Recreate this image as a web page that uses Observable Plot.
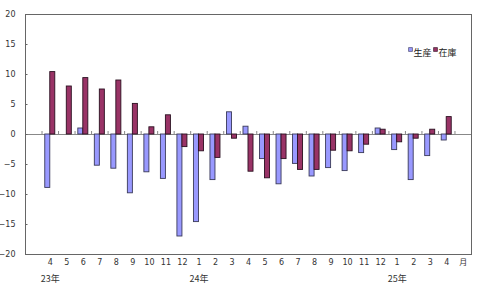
<!DOCTYPE html>
<html>
<head>
<meta charset="utf-8">
<script src="https://cdn.jsdelivr.net/npm/d3@7"></script>
<script src="https://cdn.jsdelivr.net/npm/@observablehq/plot@0.6"></script>
<style>
  html, body { margin: 0; padding: 0; background: #ffffff; }
  #chart { width: 481px; height: 303px; }
</style>
</head>
<body>
<div id="chart"></div>
<script>
// Category labels (index 0 is an empty slot, last is the unit label)
const monthLabels = ["", "4","5","6","7","8","9","10","11","12","1","2","3","4","5","6","7","8","9","10","11","12","1","2","3","4","月"];
// Year labels and the category index they sit under
const yearLabels = ["23年", "24年", "25年"];
const yearPositions = [1, 10, 22];
// Series (前年同月比, %), 23年4月 … 25年4月
const seriesNames = ["生産", "在庫"];
const production = [-8.9, 0, 1.0, -5.2, -5.7, -9.8, -6.3, -7.4, -17.0, -14.6, -7.6, 3.7, 1.3, -4.1, -8.3, -4.9, -7.0, -5.6, -6.1, -3.1, 1.0, -2.6, -7.6, -3.6, -1.0];
const inventory  = [10.4, 8.0, 9.4, 7.5, 9.0, 5.1, 1.2, 3.2, -2.1, -2.8, -3.9, -0.7, -6.2, -7.3, -4.1, -5.9, -5.9, -2.7, -2.8, -1.7, 0.8, -1.3, -0.7, 0.8, 2.9];
const yTicks = [-20, -15, -10, -5, 0, 5, 10, 15, 20];

const colors = ["#9999ff", "#993366"];
const W = 481, H = 303;
const mL = 25, mR = 10, mT = 14, mB = 49;
const xDomain = d3.range(monthLabels.length);
const bw = (W - mL - mR) / xDomain.length;

const prodRows = production.map((v, i) => ({x: i + 1, v}));
const invRows = inventory.map((v, i) => ({x: i + 1, v}));

const chart = Plot.plot({
  width: W, height: H,
  marginLeft: mL, marginRight: mR, marginTop: mT, marginBottom: mB,
  x: {type: "band", domain: xDomain, padding: 0, round: false, axis: null, label: null},
  y: {domain: [-20, 20], axis: null, label: null},
  style: {fontFamily: "DejaVu Sans, sans-serif", fontSize: "8px", color: "#333", background: "#ffffff"},
  marks: [
    Plot.ruleY([0], {stroke: "#888"}),
    Plot.ruleX(xDomain.slice(1), {x: d => d, y1: 0, y2: 0.5, dx: -bw / 2, stroke: "#888"}),
    Plot.barY(prodRows, {x: "x", y: "v", fill: colors[0], stroke: "#3a3a5a", strokeWidth: 0.9, insetLeft: 3.25, insetRight: 8.25}),
    Plot.barY(invRows, {x: "x", y: "v", fill: colors[1], stroke: "#2a1020", strokeWidth: 0.9, insetLeft: 8.25, insetRight: 3.25}),
    Plot.frame({stroke: "#666"}),
    Plot.tickY(yTicks, {y: d => d, x: () => 0, insetRight: bw - 2.5, stroke: "#666"}),
    Plot.axisY(yTicks, {tickSize: 0, tickPadding: 10, fill: "#333", fontSize: 8, label: null}),
    Plot.axisX(xDomain, {tickSize: 0, tickPadding: 5, tickFormat: i => monthLabels[i], fill: "#333", fontSize: 8, fontFamily: "DejaVu Sans, 'Noto Sans CJK JP', sans-serif", label: null}),
    Plot.axisX(yearPositions, {tickSize: 0, tickPadding: 21, tickFormat: i => yearLabels[yearPositions.indexOf(i)], fill: "#333", fontSize: 9, fontFamily: "'Noto Sans CJK JP', sans-serif", label: null}),
    // legend
    Plot.dot([seriesNames[0]], {frameAnchor: "top-left", dx: 385, dy: 35, symbol: "square", r: 2.2, fill: colors[0], stroke: "#3a3a5a", strokeWidth: 0.6}),
    Plot.text([seriesNames[0]], {frameAnchor: "top-left", dx: 388, dy: 35, text: d => d, textAnchor: "start", fontSize: 9, fill: "#222", fontFamily: "'Noto Sans CJK JP', sans-serif"}),
    Plot.dot([seriesNames[1]], {frameAnchor: "top-left", dx: 410, dy: 35, symbol: "square", r: 2.2, fill: colors[1], stroke: "#2a1020", strokeWidth: 0.6}),
    Plot.text([seriesNames[1]], {frameAnchor: "top-left", dx: 413, dy: 35, text: d => d, textAnchor: "start", fontSize: 9, fill: "#222", fontFamily: "'Noto Sans CJK JP', sans-serif"})
  ]
});
document.getElementById("chart").appendChild(chart);
</script>
</body>
</html>
